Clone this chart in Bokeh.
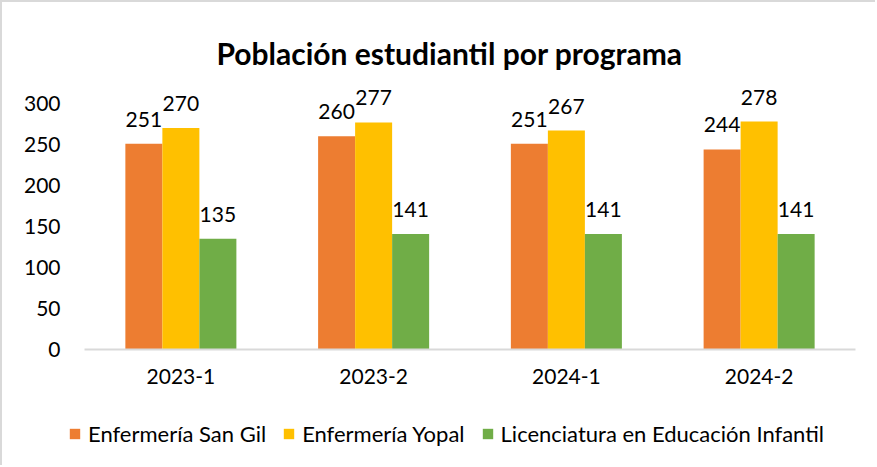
from bokeh.plotting import figure
from bokeh.layouts import column
from bokeh.models import (ColumnDataSource, FactorRange, Range1d, FixedTicker,
                          LabelSet, Label, Legend, LegendItem)
from bokeh.core.properties import value
from bokeh.transform import dodge
from bokeh.embed import file_html
from bokeh.resources import INLINE

# ---- data ----
periods = ["2023-1", "2023-2", "2024-1", "2024-2"]
series_names = ["Enfermería San Gil", "Enfermería Yopal",
                "Licenciatura en Educación Infantil"]
san_gil = [251, 260, 251, 244]
yopal = [270, 277, 267, 278]
licenciatura = [135, 141, 141, 141]
y_ticks = [0, 50, 100, 150, 200, 250, 300]
title_text = "Población estudiantil por programa"

colors = ["#ED7D31", "#FFC000", "#70AD47"]
FONT = "Lato"
TXT = "#000000"
BORDER = "2px solid #D9D9D9"
BAR_W = 0.192
PAD = 0.083

source = ColumnDataSource(dict(period=periods, s0=san_gil, s1=yopal, s2=licenciatura,
                               l0=[str(v) for v in san_gil],
                               l1=[str(v) for v in yopal],
                               l2=[str(v) for v in licenciatura]))

W = 875
xr = FactorRange(*periods, range_padding=PAD, range_padding_units="absolute")
p = figure(x_range=xr, y_range=Range1d(0, 423.2),
           width=W, height=403, output_backend="svg", toolbar_location=None,
           min_border_left=66, min_border_right=6, min_border_top=0,
           min_border_bottom=56)
p.styles = {"border-left": BORDER, "border-top": BORDER}
p.outline_line_color = None
p.xgrid.grid_line_color = None
p.ygrid.grid_line_color = None

keys = ["s0", "s1", "s2"]
offsets = [-BAR_W, 0, BAR_W]
for k, off, c in zip(keys, offsets, colors):
    p.vbar(x=dodge("period", off, range=p.x_range), top=k, width=BAR_W,
           source=source, fill_color=c, line_color=None)
    lbl = LabelSet(x=dodge("period", off, range=p.x_range), y=k, text="l" + k[1],
                   source=source, text_align="center", text_baseline="alphabetic",
                   y_offset=17, text_font=value(FONT), text_font_size=value("21px"),
                   text_color=value(TXT))
    p.add_layout(lbl)

# axes
p.yaxis.ticker = FixedTicker(ticks=y_ticks)
p.yaxis.axis_line_color = None
p.yaxis.major_tick_line_color = None
p.yaxis.minor_tick_line_color = None
p.yaxis.major_label_standoff = 2
p.yaxis.major_label_text_font = FONT
p.yaxis.major_label_text_font_size = "21px"
p.yaxis.major_label_text_color = TXT

p.xaxis.bounds = (0, len(periods))
p.xaxis.axis_line_color = "#D9D9D9"
p.xaxis.axis_line_width = 2
p.xaxis.major_tick_line_color = None
p.xaxis.minor_tick_line_color = None
p.xaxis.major_label_standoff = 13
p.xaxis.major_label_text_font = FONT
p.xaxis.major_label_text_font_size = "21px"
p.xaxis.major_label_text_color = TXT

# title (inside the tall frame, above the bars)
p.add_layout(Label(x=1.894, y=362, text=title_text, text_align="center",
                   text_baseline="middle", text_font=FONT, text_font_size="30px",
                   text_font_style="bold", text_color=TXT))

# legend strip (separate figure below; same series drawn out of view so the
# legend has real glyphs to show)
pl = figure(x_range=xr, y_range=Range1d(1000, 1001), width=W, height=62,
            output_backend="svg", toolbar_location=None,
            x_axis_location=None, y_axis_location=None,
            min_border_left=0, min_border_right=0, min_border_top=0, min_border_bottom=0)
pl.styles = {"border-left": BORDER}
pl.outline_line_color = None
pl.xgrid.grid_line_color = None
pl.ygrid.grid_line_color = None
leg_renderers = [pl.vbar(x=dodge("period", off, range=pl.x_range), top=k, width=BAR_W,
                         source=source, fill_color=c, line_color=None)
                 for k, off, c in zip(keys, offsets, colors)]
legend = Legend(items=[LegendItem(label=n, renderers=[r])
                       for n, r in zip(series_names, leg_renderers)],
                orientation="horizontal", location=(0, 18),
                glyph_width=13, glyph_height=13, label_standoff=7, spacing=16,
                padding=0, margin=0, border_line_color=None, background_fill_alpha=0,
                label_text_font=FONT, label_text_font_size="22px", label_text_color=TXT)
pl.add_layout(legend, "center")

layout = column(p, pl, spacing=0)
open("out.html", "w").write(file_html(layout, INLINE))
